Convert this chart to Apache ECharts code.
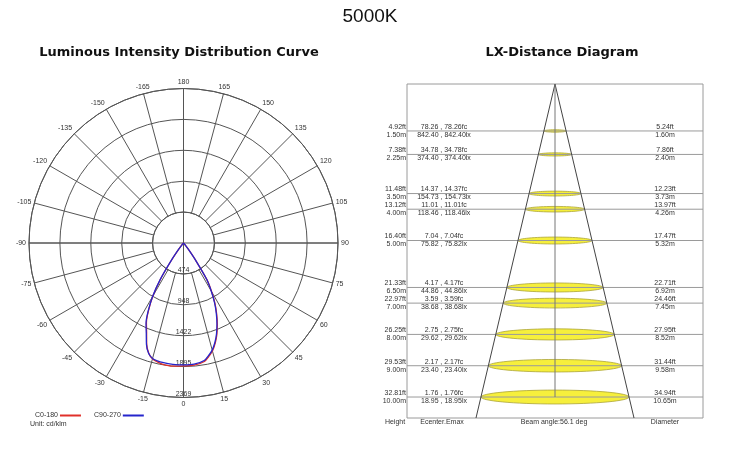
<!DOCTYPE html>
<html>
<head>
<meta charset="utf-8">
<script src="https://cdn.jsdelivr.net/npm/echarts@6/dist/echarts.min.js"></script>
<style>
html,body{margin:0;padding:0;background:#fff;}
#chart{width:740px;height:457px;}
</style>
</head>
<body>
<div id="chart"></div>
<script>
// ---------- Polar (luminous intensity) data ----------
const ringLabels = ['474', '948', '1422', '1895', '2369'];
const ringMax = 2369;
const gammaAngles = [0, 5, 10, 12.5, 15, 17.5, 20, 22.5, 25, 27.5, 30, 32.5, 35, 37.5, 40, 45, 50, 60, 70, 80, 90];
const c0   = [1885, 1880, 1845, 1785, 1715, 1615, 1495, 1355, 1205, 1045, 862, 675, 330, 125, 32, 5, 0, 0, 0, 0, 0];
const c180 = [1885, 1895, 1885, 1865, 1838, 1772, 1650, 1478, 1345, 1155, 942, 658, 318, 118, 30, 5, 0, 0, 0, 0, 0];
const c90  = [1870, 1866, 1830, 1770, 1700, 1600, 1480, 1340, 1190, 1030, 850, 665, 322, 120, 30, 5, 0, 0, 0, 0, 0];
const c270 = [1870, 1868, 1860, 1850, 1832, 1775, 1660, 1492, 1360, 1170, 950, 662, 322, 120, 30, 5, 0, 0, 0, 0, 0];

// ---------- LX-distance data ----------
const heightsM = [1.5, 2.25, 3.5, 4, 5, 6.5, 7, 8, 9, 10];
const heightsFt = ['4.92', '7.38', '11.48', '13.12', '16.40', '21.33', '22.97', '26.25', '29.53', '32.81'];
const ecFc = ['78.26', '34.78', '14.37', '11.01', '7.04', '4.17', '3.59', '2.75', '2.17', '1.76'];
const ecLx = ['842.40', '374.40', '154.73', '118.46', '75.82', '44.86', '38.68', '29.62', '23.40', '18.95'];
const diaM = [1.60, 2.40, 3.73, 4.26, 5.32, 6.92, 7.45, 8.52, 9.58, 10.65];
const diaFt = ['5.24', '7.86', '12.23', '13.97', '17.47', '22.71', '24.46', '27.95', '31.44', '34.94'];
const beamAngle = 56.1;

const xMin = -10.65, xMax = 10.65, yMax = 10.67;
const FONT = 'Liberation Sans, Arial, sans-serif';

function curve(left, right) {
  const pts = [];
  for (let i = gammaAngles.length - 1; i >= 0; i--) pts.push([left[i], 360 - gammaAngles[i]]);
  for (let i = 1; i < gammaAngles.length; i++) pts.push([right[i], gammaAngles[i]]);
  return pts;
}

const halfW = yMax * Math.tan(beamAngle / 2 * Math.PI / 180);

const chart = echarts.init(document.getElementById('chart'));
const option = {
  animation: false,
  backgroundColor: '#fff',
  polar: [
    { center: [183.5, 243], radius: [31, 154.5] },
    { center: [183.5, 243], radius: 154.5 }
  ],
  angleAxis: [
    {
      polarIndex: 0, type: 'value', min: 0, max: 360, interval: 15,
      startAngle: -90, clockwise: false,
      axisLine: { show: true, lineStyle: { color: '#555', width: 1 } },
      axisTick: { show: false },
      splitLine: { show: true, lineStyle: { color: '#555', width: 1 } },
      axisLabel: {
        show: true, margin: 3, fontSize: 7, color: '#333', fontFamily: FONT,
        formatter: v => v === 360 ? '' : String(v > 180 ? v - 360 : v)
      }
    },
    {
      polarIndex: 1, type: 'value', min: 0, max: 360, interval: 90,
      startAngle: -90, clockwise: false,
      axisLine: { show: false }, axisTick: { show: false }, axisLabel: { show: false },
      splitLine: { show: true, lineStyle: { color: '#555', width: 1 } }
    }
  ],
  radiusAxis: [
    { polarIndex: 0, type: 'value', show: false, min: 0, max: 1 },
    {
      polarIndex: 1, type: 'value', min: 0, max: ringMax, interval: ringMax / 5,
      axisLine: { show: false }, axisTick: { show: false },
      splitLine: { show: true, lineStyle: { color: '#555', width: 1 } },
      axisLabel: {
        show: true, margin: 0, align: 'center', verticalAlign: 'bottom',
        fontSize: 7, color: '#333', fontFamily: FONT,
        formatter: (v, i) => i === 0 ? '' : (ringLabels[i - 1] || '')
      }
    }
  ],
  grid: {
    left: 407, top: 84, width: 296, height: 334,
    show: true, borderColor: '#9a9a9a', borderWidth: 1, backgroundColor: 'transparent'
  },
  xAxis: { type: 'value', min: xMin, max: xMax, show: false },
  yAxis: { type: 'value', min: 0, max: yMax, inverse: true, show: false },
  legend: {
    left: 30, top: 407, align: 'right', itemGap: 13, itemWidth: 21, itemHeight: 2,
    icon: 'rect',
    textStyle: { fontSize: 7, color: '#333', fontFamily: FONT, padding: [0, -3, 0, 0] },
    data: ['C0-180', 'C90-270']
  },
  series: [
    {
      name: 'C0-180', type: 'line', coordinateSystem: 'polar', polarIndex: 1,
      data: curve(c180, c0), showSymbol: false, symbol: 'none', smooth: 0.3,
      lineStyle: { color: '#e0302a', width: 1.3 }, itemStyle: { color: '#e0302a' }, z: 3
    },
    {
      name: 'C90-270', type: 'line', coordinateSystem: 'polar', polarIndex: 1,
      data: curve(c270, c90), showSymbol: false, symbol: 'none', smooth: 0.3,
      lineStyle: { color: '#2525cc', width: 1.3 }, itemStyle: { color: '#2525cc' }, z: 4
    },
    {
      type: 'custom', xAxisIndex: 0, yAxisIndex: 0, z: 2,
      data: heightsM.map((h, i) => [h, diaM[i]]),
      renderItem: function (params, api) {
        const i = params.dataIndex;
        const h = api.value(0), d = api.value(1);
        const c = api.coord([0, h]);
        const l = api.coord([xMin, h]);
        const r = api.coord([xMax, h]);
        const w = api.size([d, 0])[0];
        const y = c[1];
        const txt = (text, x, yy, align) => ({
          type: 'text',
          style: { text: text, x: x, y: yy, align: align, verticalAlign: 'middle',
                   fill: '#333', font: '7px ' + FONT }
        });
        return {
          type: 'group',
          children: [
            { type: 'ellipse', shape: { cx: c[0], cy: y, rx: w / 2, ry: Math.max(1.2, w * 0.047) },
              style: { fill: '#f6ef3c', stroke: '#aca43a', lineWidth: 0.8 } },
            { type: 'line', shape: { x1: l[0], y1: y, x2: r[0], y2: y },
              style: { stroke: '#9a9a9a', lineWidth: 1 } },
            txt(heightsFt[i] + 'ft', l[0] - 1, y - 4, 'right'),
            txt(heightsM[i].toFixed(2) + 'm', l[0] - 1, y + 4, 'right'),
            txt(ecFc[i] + ' , ' + ecFc[i] + 'fc', l[0] + 37, y - 4, 'center'),
            txt(ecLx[i] + ' , ' + ecLx[i] + 'lx', l[0] + 37, y + 4, 'center'),
            txt(diaFt[i] + 'ft', r[0] - 38, y - 4, 'center'),
            txt(diaM[i].toFixed(2) + 'm', r[0] - 38, y + 4, 'center')
          ]
        };
      }
    },
    {
      type: 'line', xAxisIndex: 0, yAxisIndex: 0, z: 3,
      data: [[-halfW, yMax], [0, 0], [halfW, yMax]],
      showSymbol: false, symbol: 'none',
      lineStyle: { color: '#444', width: 1 }
    },
    {
      type: 'line', xAxisIndex: 0, yAxisIndex: 0, z: 3,
      data: [[0, 0], [0, heightsM[heightsM.length - 1]]],
      showSymbol: false, symbol: 'none',
      lineStyle: { color: '#777', width: 1 }
    }
  ],
  graphic: [
    { type: 'text', x: 370, y: 17, style: { text: '5000K', align: 'center', verticalAlign: 'middle', font: '19px ' + FONT, fill: '#111' } },
    { type: 'text', x: 179, y: 53, style: { text: 'Luminous Intensity Distribution Curve', align: 'center', verticalAlign: 'middle', font: 'bold 13px DejaVu Sans, Verdana, sans-serif', fill: '#111' } },
    { type: 'text', x: 562, y: 53, style: { text: 'LX-Distance Diagram', align: 'center', verticalAlign: 'middle', font: 'bold 13px DejaVu Sans, Verdana, sans-serif', fill: '#111' } },
    { type: 'text', x: 30, y: 424, style: { text: 'Unit: cd/klm', align: 'left', verticalAlign: 'middle', font: '7px ' + FONT, fill: '#333' } },
    { type: 'text', x: 395, y: 422, style: { text: 'Height', align: 'center', verticalAlign: 'middle', font: '7px ' + FONT, fill: '#333' } },
    { type: 'text', x: 442, y: 422, style: { text: 'Ecenter.Emax', align: 'center', verticalAlign: 'middle', font: '7px ' + FONT, fill: '#333' } },
    { type: 'text', x: 554, y: 422, style: { text: 'Beam angle:' + beamAngle + ' deg', align: 'center', verticalAlign: 'middle', font: '7px ' + FONT, fill: '#333' } },
    { type: 'text', x: 665, y: 422, style: { text: 'Diameter', align: 'center', verticalAlign: 'middle', font: '7px ' + FONT, fill: '#333' } }
  ]
};
chart.setOption(option);
</script>
</body>
</html>
